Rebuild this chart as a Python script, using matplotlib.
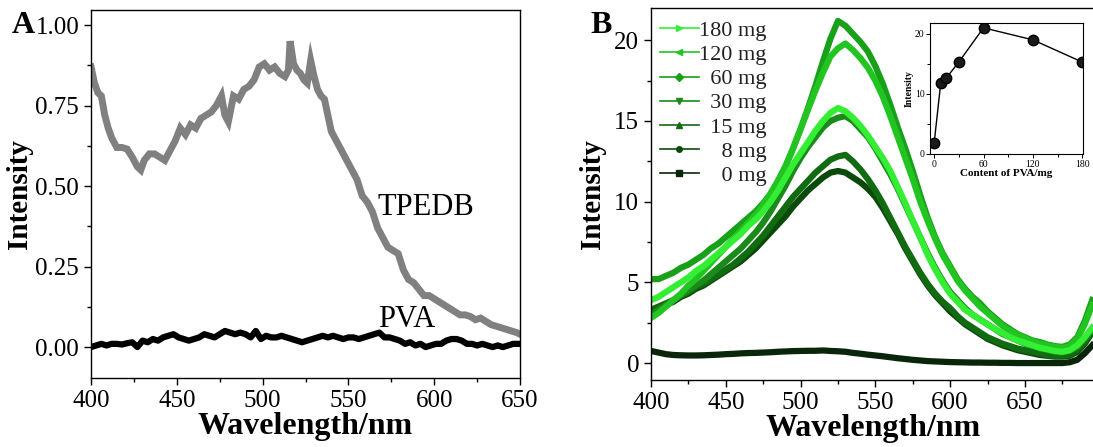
import numpy as np
import matplotlib
matplotlib.use('Agg')
import matplotlib.pyplot as plt
from matplotlib.lines import Line2D

plt.rcParams['font.family'] = ['Liberation Serif', 'DejaVu Serif']

# ---- panel A data ----
wlA_tpedb = [400, 402, 404, 406, 408, 410, 412, 415, 418, 421, 424, 427, 429, 431, 434, 437,
             440, 443, 446, 449, 452, 455, 458, 461, 464, 467, 470, 473, 476, 478, 480, 483,
             486, 489, 492, 495, 498, 501, 504, 507, 510, 513, 515, 516, 518, 520, 522, 524,
             526, 528, 530, 532, 534, 536, 538, 540, 543, 546, 549, 552, 555, 558, 561, 564,
             567, 570, 573, 576, 579, 582, 585, 588, 591, 594, 597, 600, 603, 606, 609, 612,
             615, 618, 621, 624, 627, 630, 633, 636, 639, 642, 645, 648, 650]
tpedb = [0.87, 0.82, 0.79, 0.78, 0.72, 0.68, 0.65, 0.62, 0.62, 0.615, 0.59, 0.56, 0.55, 0.58,
         0.60, 0.60, 0.59, 0.58, 0.61, 0.64, 0.68, 0.66, 0.69, 0.68, 0.71, 0.72, 0.73, 0.75,
         0.78, 0.72, 0.70, 0.78, 0.77, 0.80, 0.81, 0.83, 0.87, 0.88, 0.86, 0.87, 0.85, 0.84,
         0.86, 0.95, 0.88, 0.86, 0.85, 0.83, 0.82, 0.89, 0.84, 0.80, 0.78, 0.77, 0.72, 0.67,
         0.64, 0.61, 0.58, 0.55, 0.52, 0.47, 0.45, 0.42, 0.37, 0.34, 0.31, 0.30, 0.29, 0.24,
         0.21, 0.20, 0.18, 0.16, 0.16, 0.15, 0.14, 0.13, 0.12, 0.11, 0.10, 0.10, 0.095, 0.085,
         0.09, 0.08, 0.07, 0.065, 0.06, 0.055, 0.05, 0.045, 0.04]

wlA_pva = list(range(400, 651, 3))
pva = [0.00, 0.005, 0.01, 0.005, 0.01, 0.01, 0.008, 0.012, 0.015, 0.0, 0.02, 0.015, 0.025,
       0.02, 0.03, 0.035, 0.04, 0.03, 0.025, 0.02, 0.025, 0.03, 0.04, 0.035, 0.03, 0.04,
       0.05, 0.045, 0.04, 0.045, 0.04, 0.03, 0.05, 0.025, 0.035, 0.03, 0.03, 0.035, 0.03,
       0.025, 0.02, 0.015, 0.02, 0.025, 0.03, 0.035, 0.03, 0.035, 0.03, 0.025, 0.03, 0.03,
       0.025, 0.03, 0.035, 0.04, 0.045, 0.03, 0.03, 0.025, 0.02, 0.01, 0.015, 0.005, 0.01,
       0.0, 0.005, 0.01, 0.01, 0.02, 0.025, 0.025, 0.02, 0.01, 0.01, 0.005, 0.01, 0.005,
       0.0, 0.005, 0.0, 0.005, 0.01, 0.01]

# ---- panel B data ----
wlB = list(range(400, 696, 5))
spectra = {
    '0 mg': [0.75, 0.65, 0.55, 0.5, 0.48, 0.47, 0.47, 0.48, 0.5, 0.52, 0.55, 0.57, 0.6, 0.62,
             0.63, 0.65, 0.67, 0.7, 0.72, 0.74, 0.75, 0.76, 0.76, 0.78, 0.75, 0.73, 0.7, 0.63,
             0.58, 0.52, 0.47, 0.42, 0.36, 0.3, 0.25, 0.2, 0.16, 0.12, 0.1, 0.08, 0.06, 0.05,
             0.04, 0.03, 0.03, 0.02, 0.02, 0.01, 0.01, 0.0, 0.0, 0.0, 0.0, 0.0, 0.0, 0.0, 0.05,
             0.2, 0.6, 1.1],
    '8 mg': [3.2, 3.4, 3.6, 3.8, 4.1, 4.3, 4.6, 4.8, 5.1, 5.4, 5.7, 6.0, 6.3, 6.7, 7.1, 7.6,
             8.1, 8.6, 9.1, 9.7, 10.2, 10.7, 11.1, 11.5, 11.8, 11.9, 11.8, 11.5, 11.2, 10.8,
             10.3, 9.6, 8.8, 8.0, 7.1, 6.3, 5.5, 4.8, 4.2, 3.7, 3.2, 2.8, 2.4, 2.1, 1.8, 1.5,
             1.3, 1.1, 0.95, 0.8, 0.7, 0.6, 0.5, 0.45, 0.4, 0.4, 0.45, 0.7, 1.2, 1.9],
    '15 mg': [3.3, 3.5, 3.7, 3.9, 4.2, 4.4, 4.7, 4.9, 5.2, 5.5, 5.8, 6.1, 6.5, 6.9, 7.4, 7.9,
              8.5, 9.1, 9.7, 10.3, 10.8, 11.3, 11.8, 12.2, 12.6, 12.8, 12.9, 12.5, 12.0, 11.4,
              10.7, 9.9, 9.0, 8.1, 7.2, 6.4, 5.6, 4.9, 4.3, 3.8, 3.4, 2.9, 2.5, 2.2, 1.9, 1.6,
              1.4, 1.2, 1.05, 0.9, 0.8, 0.7, 0.6, 0.5, 0.45, 0.45, 0.5, 0.8, 1.3, 2.0],
    '30 mg': [3.0, 3.3, 3.6, 3.9, 4.2, 4.5, 4.8, 5.1, 5.5, 5.9, 6.3, 6.7, 7.1, 7.6, 8.1, 8.7,
              9.4, 10.2, 11.0, 11.9, 12.7, 13.4, 14.0, 14.6, 15.0, 15.2, 15.3, 15.0, 14.5, 14.0,
              13.3, 12.5, 11.7, 10.8, 9.8, 8.8, 7.8, 6.8, 5.9, 5.1, 4.4, 3.9, 3.4, 3.0, 2.7, 2.4,
              2.1, 1.8, 1.6, 1.4, 1.2, 1.05, 0.9, 0.8, 0.7, 0.65, 0.75, 1.0, 1.5, 2.0],
    '60 mg': [5.2, 5.2, 5.4, 5.6, 5.9, 6.1, 6.4, 6.7, 7.1, 7.4, 7.8, 8.2, 8.6, 9.0, 9.4, 9.9,
              10.5, 11.3, 12.2, 13.3, 14.5, 15.8, 17.2, 18.7, 20.1, 21.2, 20.9, 20.4, 19.9, 19.3,
              18.4, 17.3, 16.0, 14.6, 13.3, 11.9, 10.4, 9.0, 7.8, 6.8, 6.0, 5.2, 4.6, 4.1, 3.7,
              3.2, 2.8, 2.4, 2.1, 1.8, 1.6, 1.4, 1.3, 1.15, 1.05, 1.0, 1.15, 1.6, 2.6, 3.9],
    '120 mg': [2.8, 3.1, 3.5, 3.9, 4.3, 4.8, 5.2, 5.7, 6.2, 6.7, 7.2, 7.7, 8.2, 8.7, 9.2, 9.8,
               10.5, 11.3, 12.2, 13.3, 14.5, 15.7, 16.9, 18.0, 19.0, 19.5, 19.8, 19.4, 18.9, 18.3,
               17.5, 16.5, 15.3, 14.0, 12.7, 11.4, 10.0, 8.8, 7.7, 6.7, 5.9, 5.1, 4.5, 4.0, 3.5,
               3.1, 2.7, 2.3, 2.0, 1.75, 1.55, 1.35, 1.2, 1.1, 1.0, 0.95, 1.05, 1.5, 2.4, 3.6],
    '180 mg': [3.9, 4.1, 4.4, 4.7, 5.0, 5.3, 5.7, 6.0, 6.4, 6.8, 7.2, 7.6, 8.0, 8.5, 8.9, 9.4,
               10.0, 10.7, 11.5, 12.3, 13.0, 13.7, 14.4, 15.0, 15.5, 15.8, 15.6, 15.2, 14.7, 14.1,
               13.4, 12.7, 11.9, 10.9, 9.9, 8.8, 7.8, 6.7, 5.8, 5.0, 4.3, 3.8, 3.3, 3.0, 2.7, 2.4,
               2.1, 1.85, 1.6, 1.4, 1.25, 1.1, 0.95, 0.85, 0.75, 0.7, 0.8, 1.1, 1.6, 2.2],
}
colors = {'0 mg': '#0a260a', '8 mg': '#0c4a0c', '15 mg': '#116b11', '30 mg': '#1a8a1a',
          '60 mg': '#18a018', '120 mg': '#22c422', '180 mg': '#33ee33'}
markers = {'0 mg': 's', '8 mg': 'o', '15 mg': '^', '30 mg': 'v', '60 mg': 'D',
           '120 mg': '<', '180 mg': '>'}
legend_order = ['180 mg', '120 mg', '60 mg', '30 mg', '15 mg', '8 mg', '0 mg']
legend_text = {'180 mg': '180 mg', '120 mg': '120 mg', '60 mg': '  60 mg', '30 mg': '  30 mg',
               '15 mg': '  15 mg', '8 mg': '    8 mg', '0 mg': '    0 mg'}

# inset data
pva_content = [0, 8, 15, 30, 60, 120, 180]
peak_int = [1.8, 11.8, 12.7, 15.3, 21.0, 19.0, 15.3]

fig = plt.figure(figsize=(10.93, 4.47), dpi=100)


def style_axes(ax):
    ax.tick_params(which='both', direction='out', top=False, right=False, labelsize=18,
                   width=1)
    ax.tick_params(which='major', length=5)
    ax.tick_params(which='minor', length=3)
    for s in ax.spines.values():
        s.set_linewidth(1)


# ---- panel A ----
axA = fig.add_axes([0.0833, 0.1544, 0.3925, 0.8233])
axA.plot(wlA_tpedb, tpedb, color='#808080', lw=5, solid_joinstyle='miter')
axA.plot(wlA_pva, pva, color='black', lw=4.5)
axA.set_xlim(400, 650)
axA.set_ylim(-0.096, 1.047)
axA.set_xticks(np.arange(400, 651, 50))
axA.set_xticks(np.arange(425, 650, 50), minor=True)
axA.set_yticks([0, 0.25, 0.5, 0.75, 1.0])
axA.set_yticks([0.125, 0.375, 0.625, 0.875], minor=True)
axA.set_yticklabels(['0.00', '0.25', '0.50', '0.75', '1.00'])
style_axes(axA)
axA.set_xlabel('Wavelength/nm', fontsize=23, fontweight='bold', labelpad=0)
axA.set_ylabel('Intensity', fontsize=21, fontweight='bold', labelpad=2)
axA.text(567, 0.435, 'TPEDB', fontsize=22, va='center')
axA.text(567, 0.085, 'PVA', fontsize=22, va='center')
fig.text(0.011, 0.926, 'A', fontsize=23, fontweight='bold')

# ---- panel B ----
axB = fig.add_axes([0.5956, 0.1499, 0.4071, 0.8322])
for name in ['0 mg', '8 mg', '15 mg', '30 mg', '60 mg', '120 mg', '180 mg']:
    axB.plot(wlB, spectra[name], color=colors[name], lw=4.5)
axB.set_xlim(400, 697.5)
axB.set_ylim(-1.05, 22.0)
axB.set_xticks(np.arange(400, 651, 50))
axB.set_xticks(np.arange(425, 700, 50), minor=True)
axB.set_yticks(np.arange(0, 21, 5))
axB.set_yticks(np.arange(2.5, 22, 5), minor=True)
style_axes(axB)
axB.spines['right'].set_visible(False)
axB.set_xlabel('Wavelength/nm', fontsize=23, fontweight='bold', labelpad=0)
axB.set_ylabel('Intensity', fontsize=21, fontweight='bold', labelpad=6)
fig.text(0.54, 0.926, 'B', fontsize=23, fontweight='bold')

handles = [Line2D([], [], color=colors[n], marker=markers[n], markersize=4, lw=1.2)
           for n in legend_order]
axB.legend(handles, [legend_text[n] for n in legend_order], loc='upper left',
           bbox_to_anchor=(0.0, 0.99), frameon=False, fontsize=16, handlelength=1.75,
           handletextpad=0.0, labelspacing=0.16, borderaxespad=0.1, borderpad=0.3,
           labelcolor='#222222')

# ---- inset ----
axI = fig.add_axes([0.8509, 0.6555, 0.14, 0.293])
axI.plot(pva_content, peak_int, color='black', lw=1, marker='o', markersize=7.5,
         markerfacecolor='#1a1a1a', markeredgecolor='black')
axI.set_xlim(-5, 181)
axI.set_ylim(0, 21.8)
axI.set_xticks([0, 60, 120, 180])
axI.set_xticks([30, 90, 150], minor=True)
axI.set_yticks([0, 10, 20])
axI.set_yticks([5, 15], minor=True)
axI.tick_params(which='both', direction='out', top=False, right=False, labelsize=7,
                width=0.7, pad=1)
axI.tick_params(which='major', length=3)
axI.tick_params(which='minor', length=2)
axI.set_xlabel('Content of PVA/mg', fontsize=8, fontweight='bold', labelpad=0)
axI.set_ylabel('Intensity', fontsize=7, fontweight='bold', labelpad=1)

fig.savefig('out.png', dpi=100)
